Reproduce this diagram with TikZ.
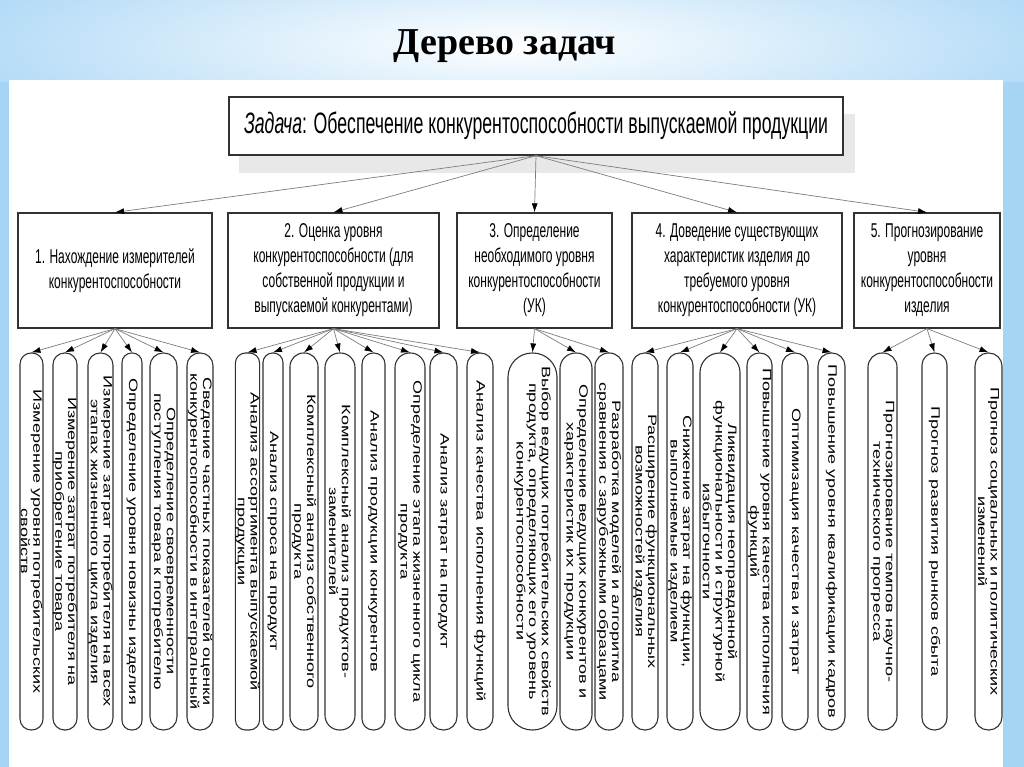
\documentclass[tikz,border=0pt]{standalone}
\usepackage{fontspec}
\setmainfont{Liberation Serif}
\newfontfamily\narrowfont[FakeStretch=0.6]{Liberation Sans}
\newfontfamily\leaffont[FakeStretch=1.48]{Liberation Sans}
\usetikzlibrary{arrows.meta}
\definecolor{bgblue}{RGB}{165,212,245}
\definecolor{linegray}{RGB}{125,125,125}
\definecolor{edge}{RGB}{50,50,50}
\newcommand\leafnode[4]{%
  \pgfmathsetmacro\pillw{#3-#2}%
  \pgfmathsetmacro\pillc{(#2+#3)/2}%
  \pgfmathsetmacro\pillr{\pillw/2-0.4}%
  \node[leaf, minimum height=\pillw pt, rounded corners=\pillr pt] (#1) at (\pillc,541.5) {#4};%
}
\begin{document}
\begin{tikzpicture}[x=1pt,y=-1pt,
  topbox/.style={draw=edge, line width=1.4pt, fill=white, minimum width=614pt, minimum height=58pt, inner sep=0pt, font={\narrowfont\fontsize{29.5}{36}\selectfont}},
  midbox/.style={draw=edge, line width=1.3pt, fill=white, inner sep=0pt, align=center, font={\narrowfont\fontsize{20}{25}\selectfont}},
  leaf/.style={draw=edge, line width=1.1pt, fill=white, rotate=-90, inner sep=0pt, align=center, minimum width=377pt, font={\leaffont\fontsize{12.2}{12.6}\selectfont}},
  link/.style={draw=linegray, line width=0.7pt, -{Latex[length=9pt,width=6pt,color=black]}},
]
\useasboundingbox (0,0) rectangle (1024,767);
% background
\fill[bgblue] (0,0) rectangle (1024,767);
\begin{scope}
  \clip (0,0) rectangle (1024,82);
  \shade[inner color=white, outer color=bgblue] (-150,-80) rectangle (1174,170);
\end{scope}
\fill[white] (9,80) rectangle (1003,767);
% title
\node[font={\bfseries\fontsize{38}{44}\selectfont}, anchor=base] (title) at (505,55) {Дерево задач};
% top box
\fill[black!9] (239,114) rectangle (855,173);
\node[topbox] (top) at (536,126) {\textit{Задача}: Обеспечение конкурентоспособности выпускаемой продукции};
% level 2
\node[midbox, minimum width=194pt, minimum height=115pt] (b1) at (115,270.5) {1. Нахождение измерителей\\конкурентоспособности};
\node[midbox, minimum width=211pt, minimum height=115pt] (b2) at (333.5,270.5) {2. Оценка уровня\\конкурентоспособности (для\\собственной продукции и\\выпускаемой конкурентами)};
\node[midbox, minimum width=155pt, minimum height=115pt] (b3) at (534.5,270.5) {3. Определение\\необходимого уровня\\конкурентоспособности\\(УК)};
\node[midbox, minimum width=210pt, minimum height=115pt] (b4) at (737,270.5) {4. Доведение существующих\\характеристик изделия до\\требуемого уровня\\конкурентоспособности (УК)};
\node[midbox, minimum width=146pt, minimum height=115pt] (b5) at (927,270.5) {5. Прогнозирование\\уровня\\конкурентоспособности\\изделия};
\foreach \b in {b1,b2,b3,b4,b5} \draw[link] (top.south) -- (\b.north);
% leaves group 1
\leafnode{a1}{20}{43}{Измерение уровня потребительских\\свойств}
\leafnode{a2}{53}{77}{Измерение затрат потребителя на\\приобретение товара}
\leafnode{a3}{88}{113}{Измерение затрат потребителя на всех\\этапах жизненного цикла изделия}
\leafnode{a4}{122}{142}{Определение уровня новизны изделия}
\leafnode{a5}{150}{177}{Определение своевременности\\поступления товара к потребителю}
\leafnode{a6}{187}{213}{Сведение частных показателей оценки\\конкурентоспособности в интегральный}
% group 2
\leafnode{c1}{237}{258}{Анализ ассортимента выпускаемой\\продукции}
\leafnode{c2}{263}{283}{Анализ спроса на продукт}
\leafnode{c3}{290}{318}{Комплексный анализ собственного\\продукта}
\leafnode{c4}{325}{355}{Комплексный анализ продуктов-\\заменителей}
\leafnode{c5}{362}{385}{Анализ продукции конкурентов}
\leafnode{c6}{395}{425}{Определение этапа жизненного цикла\\продукта}
\leafnode{c7}{430}{457}{Анализ затрат на продукт}
\leafnode{c8}{467}{493}{Анализ качества исполнения функций}
% group 3
\leafnode{d1}{508}{557}{Выбор ведущих потребительских свойств\\продукта, определяющих его уровень\\конкурентоспособности}
\leafnode{d2}{560}{592}{Определение ведущих конкурентов и\\характеристик их продукции}
\leafnode{d3}{595}{623}{Разработка моделей и алгоритма\\сравнения с зарубежными образцами}
% group 4
\leafnode{e1}{632}{658}{Расширение функциональных\\возможностей изделия}
\leafnode{e2}{667}{693}{Снижение затрат на функции,\\выполняемые изделием}
\leafnode{e3}{700}{740}{Ликвидация неоправданной\\функциональности и структурной\\избыточности}
\leafnode{e4}{747}{772}{Повышение уровня качества исполнения\\функций}
\leafnode{e5}{782}{808}{Оптимизация качества и затрат}
\leafnode{e6}{818}{845}{Повышение уровня квалификации кадров}
% group 5
\leafnode{f1}{868}{897}{Прогнозирование темпов научно-\\технического прогресса}
\leafnode{f2}{922}{947}{Прогноз развития рынков сбыта}
\leafnode{f3}{975}{1002}{Прогноз социальных и политических\\изменений}
% fans
\foreach \l in {a1,a2,a3,a4,a5,a6} \draw[link] (b1.south) -- (\l.west);
\foreach \l in {c1,c2,c3,c4,c5,c6,c7,c8} \draw[link] (b2.south) -- (\l.west);
\foreach \l in {d1,d2,d3} \draw[link] (b3.south) -- (\l.west);
\foreach \l in {e1,e2,e3,e4,e5,e6} \draw[link] (b4.south) -- (\l.west);
\foreach \l in {f1,f2,f3} \draw[link] (b5.south) -- (\l.west);
\end{tikzpicture}
\end{document}
